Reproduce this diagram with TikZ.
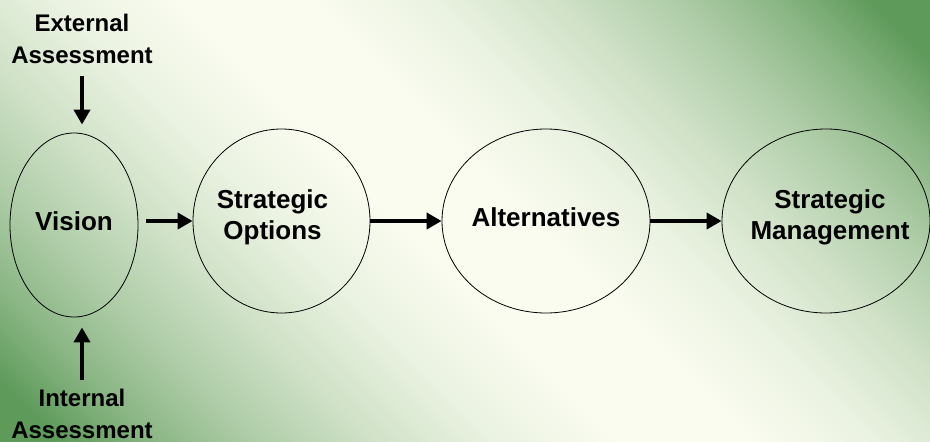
\documentclass[tikz,border=0pt]{standalone}
\usepackage{fontspec}
\setmainfont{Liberation Sans}
\usetikzlibrary{arrows.meta,shapes.geometric}

\definecolor{bggreen}{HTML}{5E9A5A}
\definecolor{bglight}{HTML}{FAFCF0}
\colorlet{bgtintA}{bggreen!10!bglight}
\colorlet{bgtintB}{bggreen!27!bglight}
\colorlet{bgtintC}{bggreen!50!bglight}
\colorlet{bgtintD}{bggreen!72!bglight}
\pgfdeclareverticalshading{bgfade}{100bp}{color(0bp)=(bggreen); color(27bp)=(bggreen);
  color(30.45bp)=(bgtintD); color(33.9bp)=(bgtintC); color(38.5bp)=(bgtintB); color(43.1bp)=(bgtintA);
  color(47.7bp)=(bglight); color(52.3bp)=(bglight); color(56.9bp)=(bgtintA); color(61.5bp)=(bgtintB);
  color(66.1bp)=(bgtintC); color(69.55bp)=(bgtintD); color(73bp)=(bggreen); color(100bp)=(bggreen)}

\begin{document}
\begin{tikzpicture}[x=1pt,y=-1pt,
    oval/.style={draw,ellipse,line width=0.8pt,inner sep=0pt,minimum height=184pt},
    word/.style={font=\fontsize{26}{31}\selectfont\bfseries,align=center,yshift=4pt},
    note/.style={font=\fontsize{24}{32}\selectfont\bfseries,align=center,inner sep=1pt},
    flow/.style={-{Triangle[length=15pt,width=16pt]},line width=4.5pt}]
    \begin{scope}
    \clip (0,0) rectangle (930,442);
    \shade[shading=bgfade,shading angle=-45] (-20,-264) rectangle (950,706);
    \end{scope}
    \useasboundingbox (0,0) rectangle (930,442);
    % the four stages
    \node[oval,minimum width=128pt,label={[word]center:Vision}] (vision) at (74,225) {};
    \node[oval,minimum width=177pt,label={[word,xshift=-9pt]center:Strategic\\Options}] (options) at (281.5,221) {};
    \node[oval,minimum width=208pt,label={[word]center:Alternatives}] (alt) at (546,221) {};
    \node[oval,minimum width=208pt,label={[word,xshift=4pt]center:Strategic\\Management}] (mgmt) at (826,221) {};
    % inputs to the vision
    \node[note] (ext) at (82,39) {External\\Assessment};
    \node[note] (int) at (82,414) {Internal\\Assessment};
    \draw[flow,shorten <=11pt,shorten >=8pt] (ext) -- (ext |- vision.north);
    \draw[flow,shorten <=8pt,shorten >=10pt] (int) -- (int |- vision.south);
    % the chain
    \draw[flow,shorten <=8pt] (vision.east |- options) -- (options.west);
    \draw[flow] (options) -- (alt);
    \draw[flow] (alt) -- (mgmt);
\end{tikzpicture}
\end{document}
